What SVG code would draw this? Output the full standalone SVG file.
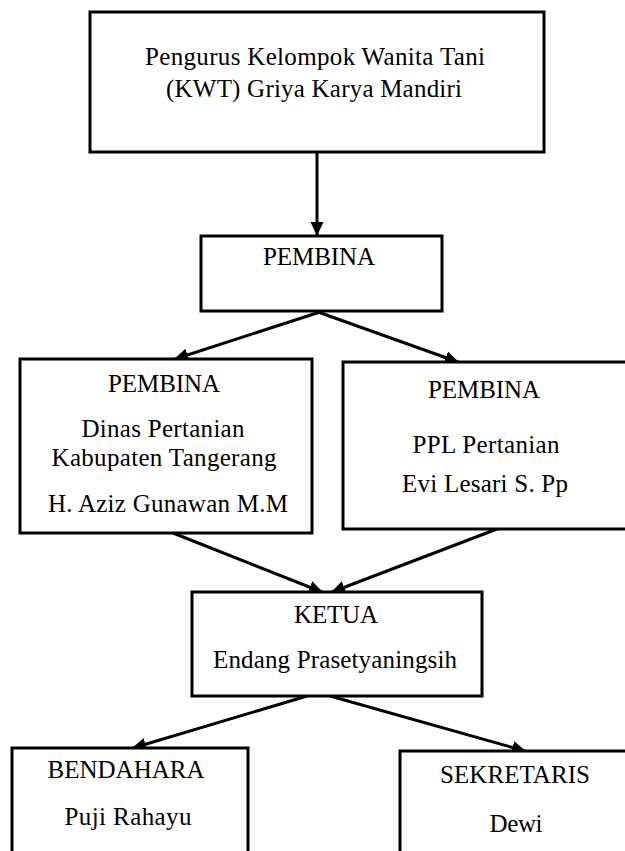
<svg xmlns="http://www.w3.org/2000/svg" width="625" height="851" viewBox="0 0 625 851">
  <style>
    .box { fill: #ffffff; stroke: #000000; stroke-width: 3; }
    .t { font-family: "Liberation Serif", "DejaVu Serif", "Times New Roman", serif; font-size: 25px; fill: #000000; text-anchor: middle; }
    .conn { stroke: #000000; stroke-width: 3; fill: none; marker-end: url(#arrow); }
  </style>
  <defs>
    <marker id="arrow" markerUnits="userSpaceOnUse" markerWidth="14" markerHeight="14" refX="13" refY="6.5" orient="auto" viewBox="0 0 14 13">
      <path d="M0,0 L14,6.5 L0,13 Z" fill="#000000"/>
    </marker>
  </defs>
  <rect x="0" y="0" width="625" height="851" fill="#ffffff"/>

  <g id="connectors">
    <line class="conn" x1="317" y1="152" x2="317" y2="235"/>
    <line class="conn" x1="320" y1="312" x2="175" y2="359"/>
    <line class="conn" x1="318" y1="312" x2="458" y2="362"/>
    <line class="conn" x1="173" y1="533" x2="322" y2="592"/>
    <line class="conn" x1="497" y1="529" x2="332" y2="592"/>
    <line class="conn" x1="307" y1="696" x2="133" y2="748"/>
    <line class="conn" x1="330" y1="696" x2="525" y2="751"/>
  </g>

  <g id="node-pengurus">
    <rect class="box" x="90" y="12" width="454" height="140"/>
    <text class="t" x="315" y="65" textLength="340">Pengurus Kelompok Wanita Tani</text>
    <text class="t" x="314" y="97" textLength="296">(KWT) Griya Karya Mandiri</text>
  </g>

  <g id="node-pembina">
    <rect class="box" x="201" y="236" width="241" height="75"/>
    <text class="t" x="319" y="265" textLength="112">PEMBINA</text>
  </g>

  <g id="node-pembina-dinas">
    <rect class="box" x="20" y="359" width="292" height="174"/>
    <text class="t" x="164" y="392" textLength="112">PEMBINA</text>
    <text class="t" x="163" y="437" textLength="163">Dinas Pertanian</text>
    <text class="t" x="164" y="466" textLength="225">Kabupaten Tangerang</text>
    <text class="t" x="168" y="512" textLength="240">H. Aziz Gunawan M.M</text>
  </g>

  <g id="node-pembina-ppl">
    <rect class="box" x="343" y="362" width="300" height="167"/>
    <text class="t" x="484" y="398" textLength="112">PEMBINA</text>
    <text class="t" x="486" y="453" textLength="147">PPL Pertanian</text>
    <text class="t" x="485" y="492" textLength="166">Evi Lesari S. Pp</text>
  </g>

  <g id="node-ketua">
    <rect class="box" x="192" y="592" width="290" height="104"/>
    <text class="t" x="336" y="623" textLength="84">KETUA</text>
    <text class="t" x="335" y="668" textLength="244">Endang Prasetyaningsih</text>
  </g>

  <g id="node-bendahara">
    <rect class="box" x="12" y="748" width="236" height="130"/>
    <text class="t" x="126" y="778" textLength="157">BENDAHARA</text>
    <text class="t" x="128" y="825" textLength="127">Puji Rahayu</text>
  </g>

  <g id="node-sekretaris">
    <rect class="box" x="400" y="751" width="260" height="130"/>
    <text class="t" x="515" y="783" textLength="150">SEKRETARIS</text>
    <text class="t" x="516" y="832" textLength="53">Dewi</text>
  </g>
</svg>
